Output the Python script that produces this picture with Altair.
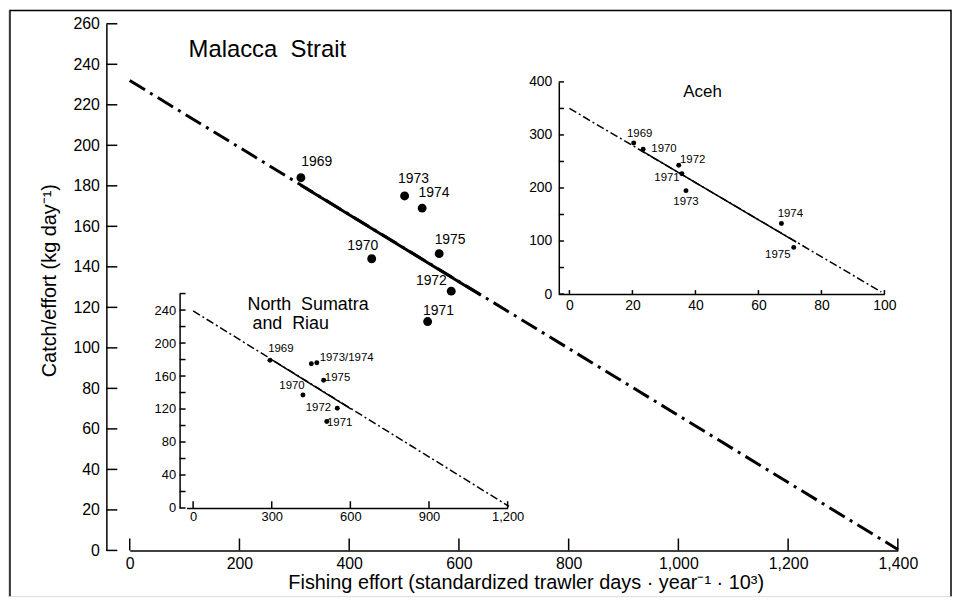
import altair as alt
import pandas as pd

FONT = "Liberation Sans"
W, H = 950, 590

# ---------------- data ----------------
years = [1969, 1970, 1971, 1972, 1973, 1974, 1975]

main_effort = [312, 441, 543, 586, 501, 533, 564]
main_cpue = [184, 144, 113, 128, 175, 169, 146.5]
main_fit_x = [0, 1400]
main_fit_y = [232, 0.5]
main_solid_x = [312, 640]
main_solid_y = [180.3, 126]

aceh_effort = [20.4, 23.4, 35.7, 34.7, 37.0, 67.3, 71.2]
aceh_cpue = [285, 273, 227, 243, 195, 133, 88]
aceh_fit_x = [0, 99]
aceh_fit_y = [350, 4]
aceh_solid_x = [23, 72]
aceh_solid_y = [270, 98]

ns_effort = [293, 419, 510, 550, 451, 472, 498]
ns_cpue = [179, 137, 105, 121, 175, 176, 155]
ns_labels = ["1969", "1970", "1971", "1972", "", "1973/1974", "1975"]
ns_fit_x = [0, 1205]
ns_fit_y = [239, 2]
ns_solid_x = [293, 603]
ns_solid_y = [181, 120]

main_xticks = [0, 200, 400, 600, 800, 1000, 1200, 1400]
main_yticks = list(range(0, 261, 20))
aceh_xticks = [0, 20, 40, 60, 80, 100]
aceh_yticks = [0, 100, 200, 300, 400]
aceh_yminor = list(range(0, 401, 50))
ns_xticks = [0, 300, 600, 900, 1200]
ns_yticks = [0, 40, 80, 120, 160, 200, 240]
ns_yminor = list(range(0, 261, 20))

AXIS_X = "Fishing effort (standardized trawler days · year⁻¹ · 10³)"
AXIS_Y = "Catch/effort (kg day⁻¹)"
NB = "\u00a0"


def pts(effort, cpue, labels):
    return pd.DataFrame({"x": effort, "y": cpue, "year": years, "label": labels})


def line(xs, ys):
    return pd.DataFrame({"x": xs, "y": ys})


def base_axis(**kw):
    d = dict(domain=True, domainColor="black", domainWidth=1.5, ticks=False, tickSize=0,
             grid=False, labelFont=FONT, labelColor="black", labelFlush=False,
             labelOverlap=False, labelBound=False)
    d.update(kw)
    return alt.Axis(**d)


def group(df, fit, solid, sx, sy, ax, ay, lw, dash, size, lab_fs, offsets,
          xt, yt, xtick_px, ytick_px):
    X = lambda: alt.X("x:Q", scale=sx, axis=ax)
    Y = lambda: alt.Y("y:Q", scale=sy, axis=ay)
    layers = [
        alt.Chart(fit).mark_line(color="black", strokeWidth=lw, strokeDash=dash)
        .encode(x=X(), y=Y()),
        alt.Chart(solid).mark_line(color="black", strokeWidth=lw).encode(x=X(), y=Y()),
        alt.Chart(df).mark_circle(color="black", opacity=1, size=size).encode(x=X(), y=Y()),
    ]
    for yr, (dx, dy) in offsets.items():
        layers.append(
            alt.Chart(df).transform_filter(alt.datum.year == yr)
            .mark_text(font=FONT, fontSize=lab_fs, color="black", dx=dx, dy=dy,
                       align="center", baseline="middle")
            .encode(x=X(), y=Y(), text="label:N")
        )
    # inward ticks
    y0, y1 = xtick_px
    layers.append(
        alt.Chart(pd.DataFrame({"x": xt})).mark_rule(color="black", strokeWidth=1.5)
        .encode(x=X(), y=alt.value(y0), y2=alt.value(y1))
    )
    x0, x1 = ytick_px
    layers.append(
        alt.Chart(pd.DataFrame({"y": yt})).mark_rule(color="black", strokeWidth=1.5)
        .encode(y=Y(), x=alt.value(x0), x2=alt.value(x1))
    )
    return layers


# ---------------- main panel ----------------
MX = alt.Scale(domain=[0, 1400], range=[122.5, 895.5], nice=False, zero=False)
MY = alt.Scale(domain=[0, 260], range=[544, 14], nice=False, zero=False)
MAX = base_axis(orient="bottom", offset=-(H - 544), values=main_xticks, format=",d",
                labelFontSize=16, labelPadding=5,
                title=AXIS_X, titleFont=FONT, titleFontSize=20, titleFontWeight="normal",
                titleColor="black", titleX=521, titleY=38, titleAlign="center",
                titleBaseline="alphabetic")
MAY = base_axis(orient="left", offset=-99, values=main_yticks,
                labelFontSize=16, labelPadding=7,
                title=AXIS_Y, titleFont=FONT, titleFontSize=20, titleFontWeight="normal",
                titleColor="black", titleX=-57, titleY=272, titleAngle=270,
                titleAlign="center", titleBaseline="middle")
main_off = {1969: (16, -16), 1970: (-9, -13), 1971: (11, -11), 1972: (-20, -10),
            1973: (9, -17), 1974: (12, -15), 1975: (11, -14)}
main_layers = group(pts(main_effort, main_cpue, [str(y) for y in years]),
                    line(main_fit_x, main_fit_y), line(main_solid_x, main_solid_y),
                    MX, MY, MAX, MAY, 3, [18, 6, 3, 6], 80, 14, main_off,
                    main_xticks, main_yticks, (544, 532), (99, 110))

one = pd.DataFrame({"t": ["Malacca" + NB + " Strait"]})
deco = [
    alt.Chart(one).mark_text(font=FONT, fontSize=24, color="black", align="center",
                             baseline="middle").encode(x=alt.value(261), y=alt.value(40), text="t:N"),
    alt.Chart(pd.DataFrame({"t": ["Aceh"]})).mark_text(font=FONT, fontSize=17, color="black",
        align="center", baseline="middle").encode(x=alt.value(699), y=alt.value(83), text="t:N"),
    alt.Chart(pd.DataFrame({"t": ["North" + NB + " Sumatra"]})).mark_text(font=FONT, fontSize=18,
        color="black", align="left", baseline="middle").encode(x=alt.value(241), y=alt.value(297), text="t:N"),
    alt.Chart(pd.DataFrame({"t": ["and" + NB + " Riau"]})).mark_text(font=FONT, fontSize=18,
        color="black", align="left", baseline="middle").encode(x=alt.value(246), y=alt.value(316), text="t:N"),
    # figure frame
    alt.Chart(one).mark_rule(color="black", strokeWidth=1.5).encode(
        x=alt.value(2), y=alt.value(0), y2=alt.value(H)),
    alt.Chart(one).mark_rule(color="black", strokeWidth=1.5).encode(
        x=alt.value(949), y=alt.value(0), y2=alt.value(H)),
    alt.Chart(one).mark_rule(color="black", strokeWidth=1.5).encode(
        x=alt.value(2), x2=alt.value(949), y=alt.value(0.75)),
]
main = alt.layer(*(main_layers + deco))

# ---------------- Aceh inset ----------------
AX = alt.Scale(domain=[-3.5, 100], range=[553.9, 882], nice=False, zero=False)
AY = alt.Scale(domain=[0, 400], range=[286, 72.5], nice=False, zero=False)
AAX = base_axis(orient="bottom", offset=-(H - 286), values=aceh_xticks,
                labelFontSize=14, labelPadding=5, title=None)
AAY = base_axis(orient="left", offset=-554.3, values=aceh_yticks,
                labelFontSize=14, labelPadding=7, title=None)
aceh_off = {1969: (6, -9), 1970: (21, 0), 1971: (-15, 4), 1972: (14, -5),
            1973: (0, 11), 1974: (9, -10), 1975: (-16, 8)}
aceh = alt.layer(*group(pts(aceh_effort, aceh_cpue, [str(y) for y in years]),
                        line(aceh_fit_x, aceh_fit_y), line(aceh_solid_x, aceh_solid_y),
                        AX, AY, AAX, AAY, 1.5, [8, 3, 2, 3], 25, 11.5, aceh_off,
                        aceh_xticks, aceh_yminor, (286, 282), (554.3, 559.5)))

# ---------------- North Sumatra and Riau inset ----------------
NX = alt.Scale(domain=[-25, 1200], range=[179.7, 502.8], nice=False, zero=False)
NY = alt.Scale(domain=[0, 260], range=[501.3, 285.5], nice=False, zero=False)
NAX = base_axis(orient="bottom", offset=-(H - 501.3), values=ns_xticks, format=",d",
                labelFontSize=13, labelPadding=3, title=None)
NAY = base_axis(orient="left", offset=-172.7, values=ns_yticks,
                labelFontSize=13, labelPadding=4, title=None)
ns_off = {1969: (11, -11), 1970: (-11, -9), 1971: (13, 2), 1972: (-19, 0),
          1974: (30, -5), 1975: (14, -2)}
ns = alt.layer(*group(pts(ns_effort, ns_cpue, ns_labels),
                      line(ns_fit_x, ns_fit_y), line(ns_solid_x, ns_solid_y),
                      NX, NY, NAX, NAY, 1.5, [8, 3, 2, 3], 25, 11.5, ns_off,
                      ns_xticks, ns_yminor, (501.3, 494.5), (172.7, 178.7)))

chart = (
    alt.layer(main, aceh, ns)
    .resolve_scale(x="independent", y="independent")
    .properties(width=W, height=H, padding=0, autosize=alt.AutoSizeParams(type="none"))
    .configure_view(stroke=None)
    .configure(background="white")
)

chart.save("out.html", embed_options={"renderer": "svg", "actions": False})
